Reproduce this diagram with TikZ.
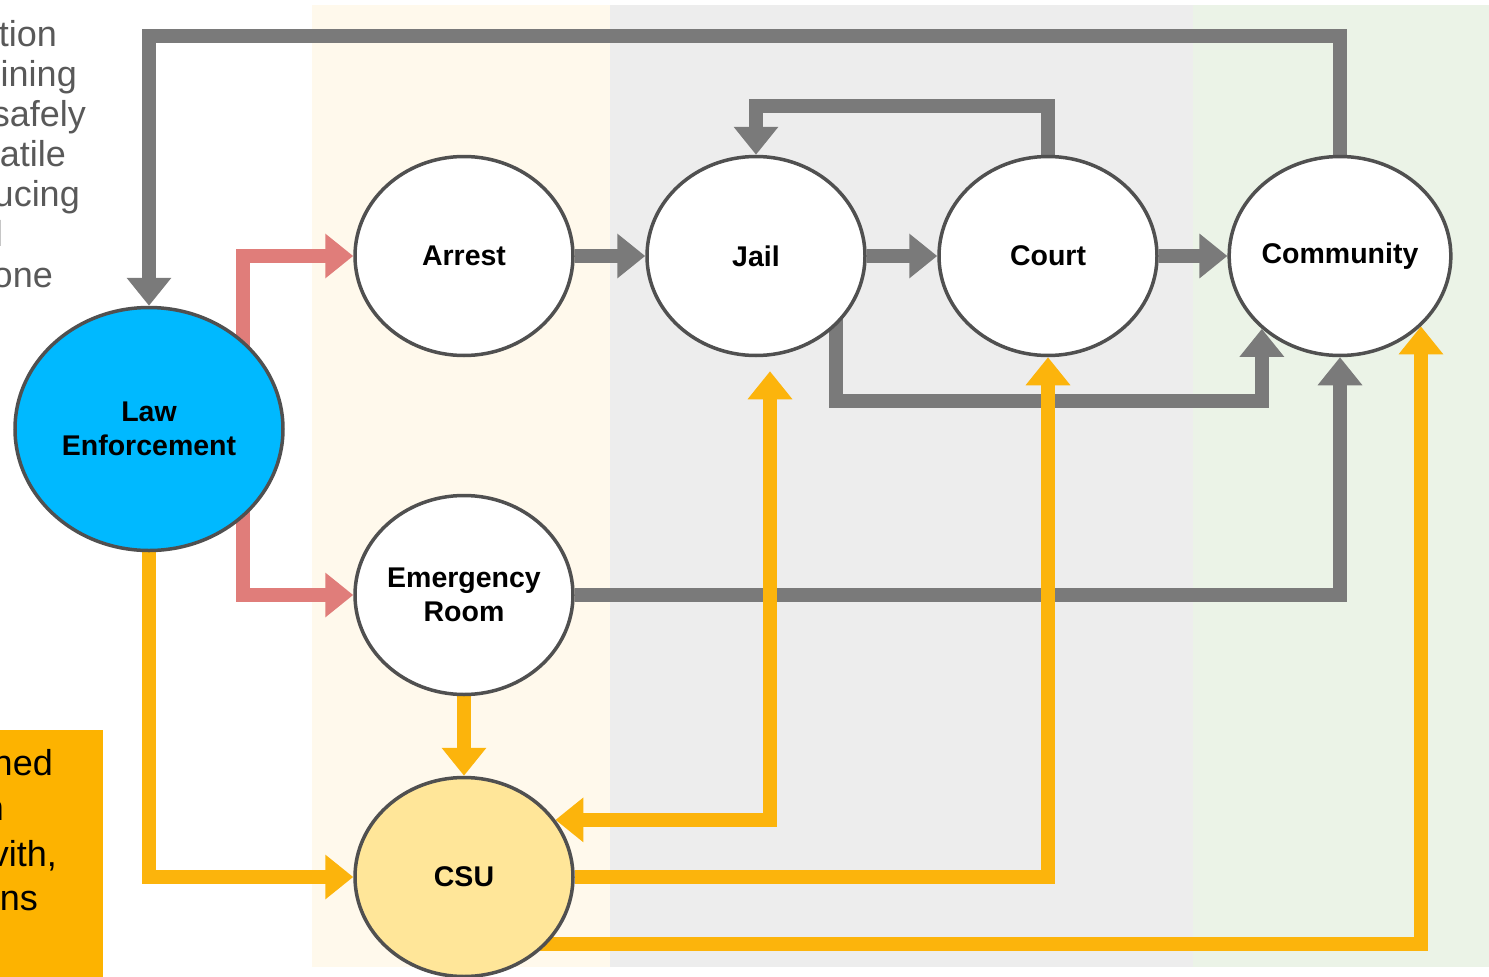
\documentclass[tikz,border=0pt]{standalone}
\usepackage{fontspec}
\setmainfont{Liberation Sans}
\usetikzlibrary{arrows.meta,shapes.geometric,calc,backgrounds}
\definecolor{edgec}{HTML}{505050}
\definecolor{grayln}{HTML}{7A7A7A}
\definecolor{redln}{HTML}{E07D7A}
\definecolor{orln}{HTML}{FCB40C}
\definecolor{lefill}{HTML}{00B9FF}
\definecolor{csufill}{HTML}{FFE699}
\definecolor{creamb}{HTML}{FFF9EC}
\definecolor{grayb}{HTML}{EDEDED}
\definecolor{greenb}{HTML}{EBF3E7}
\definecolor{boxor}{HTML}{FDB300}
\definecolor{txtgray}{HTML}{595959}
\pgfdeclarelayer{bands}
\pgfsetlayers{bands,background,main}
\tikzset{
  stage/.style={ellipse, draw=edgec, line width=3.5pt, fill=white,
    minimum width=218pt, minimum height=199pt, inner sep=0pt,
    align=center, font=\fontsize{28.5}{34}\selectfont\bfseries, text=black},
  flowbase/.style={line width=14pt, line join=miter},
  gflow/.style={flowbase, draw=grayln, -{Triangle[width=43pt,length=28pt]}},
  rflow/.style={flowbase, draw=redln, -{Triangle[width=43pt,length=28pt]}},
  oflow/.style={flowbase, draw=orln, -{Triangle[width=43pt,length=28pt]}},
  oflowboth/.style={flowbase, draw=orln, {Triangle[width=43pt,length=28pt]}-{Triangle[width=43pt,length=28pt]}},
  sidetxt/.style={anchor=base east, inner sep=0pt, font=\fontsize{36}{40}\selectfont},
}
\begin{document}
\begin{tikzpicture}[x=1pt,y=-1pt]
\useasboundingbox (0,0) rectangle (1489,977);

% nodes
\node[stage] (arrest) at (464,256) {Arrest};
\node[stage] (jail) at (756,256) {Jail};
\node[stage] (court) at (1048,256) {Court};
\node[stage] (comm) at (1340,256) {Community\vphantom{A}};
\node[stage, fill=lefill, minimum width=268pt, minimum height=243pt] (le) at (149,429) {Law\\Enforcement};
\node[stage] (er) at (464,595) {Emergency\\Room};
\node[stage, fill=csufill] (csu) at (464,877) {CSU};

% side texts (cut off at the left edge, as in the reference)
\node[sidetxt, text=txtgray] (t1) at (57,46) {tion};
\node[sidetxt, text=txtgray] (t2) at (77,86) {ining};
\node[sidetxt, text=txtgray] (t3) at (86,126) {safely};
\node[sidetxt, text=txtgray] (t4) at (66,166) {atile};
\node[sidetxt, text=txtgray] (t5) at (80,206) {ucing};
\node[sidetxt, text=txtgray] (t6) at (3,246) {l};
\node[sidetxt, text=txtgray] (t7) at (53,287) {one};

\begin{pgfonlayer}{bands}
  \fill[creamb] (312,5) rectangle (610,967);
  \fill[grayb] (610,5) rectangle (1193,967);
  \fill[greenb] (1193,5) rectangle (1489,967);
  \fill[boxor] (0,730) rectangle (103,977);
\end{pgfonlayer}

\node[sidetxt, text=black] (o1) at (53,775) {ned};
\node[sidetxt, text=black] (o2) at (4,820) {n};
\node[sidetxt, text=black] (o3) at (57,866) {vith,};
\node[sidetxt, text=black] (o4) at (38,910) {ns};

\begin{pgfonlayer}{background}
  % gray flows
  \draw[gflow] (comm.north) -- ++(0,-119) -| (le.north);
  \draw[gflow] (court.north) -- ++(0,-49) -| (jail.north);
  \draw[gflow] (arrest) -- (jail);
  \draw[gflow] (jail) -- (court);
  \draw[gflow] (court) -- (comm);
  \draw[gflow] ($(jail.center)+(80,0)$) -- ++(0,145) -| (comm.223.5);
  \draw[gflow] (er) -| (comm);
  % red flows
  \draw[rflow] ($(le.center)+(94,0)$) |- (arrest);
  \draw[rflow] ($(le.center)+(94,0)$) |- (er);
  % orange flows
  \draw[oflow] (le) |- (csu);
  \draw[oflow] (er) -- (csu);
  \coordinate (jfree) at ($(jail.south)+(14,14)$);
  \draw[oflowboth] (jfree) |- (csu.32);
  \draw[oflow] (csu) -| (court);
  \draw[oflow] ($(csu.center)+(60,67)$) -| (comm.-41);
\end{pgfonlayer}
\end{tikzpicture}
\end{document}
